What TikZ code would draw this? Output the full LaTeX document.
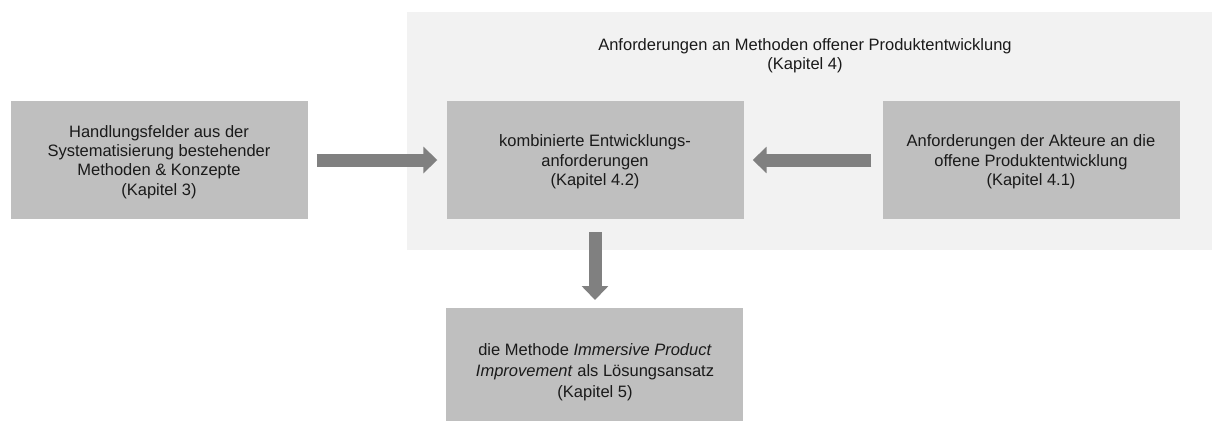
\documentclass[tikz,border=0pt]{standalone}
\usepackage{fontspec}
\setmainfont{Liberation Sans}
\usetikzlibrary{arrows.meta}
\definecolor{boxgray}{HTML}{BFBFBF}
\definecolor{panelgray}{HTML}{F2F2F2}
\definecolor{arrowgray}{HTML}{808080}
\definecolor{txt}{HTML}{1A1A1A}
\begin{document}
\begin{tikzpicture}[x=1pt,y=-1pt,
  txtfont/.style={font=\fontsize{16.5}{19.3}\selectfont, text=txt},
  block/.style={fill=boxgray, draw=none, inner sep=0pt,
    minimum width=297pt, minimum height=118pt},
  label/.style={txtfont, align=center, inner sep=0pt},
  bigarrow/.style={draw=arrowgray, line width=13pt,
    -{Triangle[width=26pt,length=14pt]}},
]
\useasboundingbox (0,0) rectangle (1212,421);
% grey panel holding chapter 4
\fill[panelgray] (407,12) rectangle (1212,250);
\node[label] (title) at (805,56)
  {Anforderungen an Methoden offener Produktentwicklung\\(Kapitel 4)};
% blocks
\node[block] (hf) at (159,160) {};
\node[label] at (159,162)
  {Handlungsfelder aus der\\Systematisierung bestehender\\Methoden \& Konzepte\\(Kapitel 3)};
\node[block] (komb) at (595,160) {};
\node[label] at (595,162)
  {kombinierte Entwicklungs-\\anforderungen\\(Kapitel 4.2)};
\node[block] (akt) at (1031,160) {};
\node[label] at (1031,162)
  {Anforderungen der Akteure an die\\offene Produktentwicklung\\(Kapitel 4.1)};
\fill[boxgray] (446,308) rectangle (743,421);
\coordinate (soltop) at (595,308);
\node[label, font=\fontsize{16.5}{20.8}\selectfont] (sol) at (595,372)
  {die Methode \textit{Immersive Product}\\\textit{Improvement} als Lösungsansatz\\(Kapitel 5)};
% connectors
\draw[bigarrow] ([xshift=9pt]hf.east) -- ([xshift=-9pt]komb.west);
\draw[bigarrow] ([xshift=-11pt]akt.west) -- ([xshift=9pt]komb.east);
\draw[bigarrow] ([yshift=-13pt]komb.south) -- ([yshift=8pt]soltop);
\end{tikzpicture}
\end{document}
